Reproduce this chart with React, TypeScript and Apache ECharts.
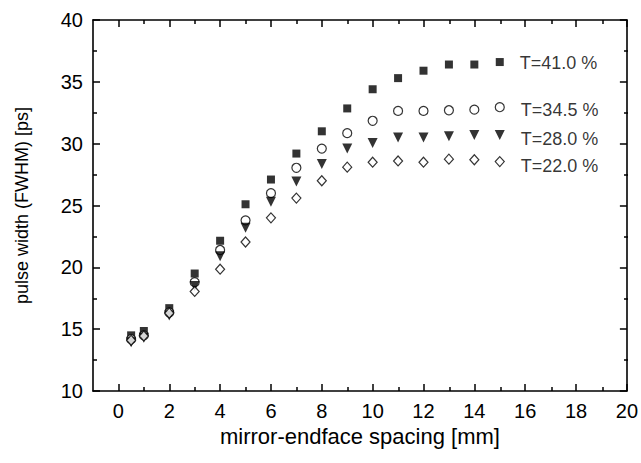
import React, { useEffect, useRef } from "react";
import * as echarts from "echarts";

const spacing = [0.5, 1, 2, 3, 4, 5, 6, 7, 8, 9, 10, 11, 12, 13, 14, 15];
const t41 = [14.5, 14.85, 16.7, 19.5, 22.15, 25.1, 27.1, 29.2, 31.0, 32.85, 34.4, 35.3, 35.9, 36.4, 36.4, 36.6];
const t345 = [14.2, 14.5, 16.35, 18.8, 21.4, 23.8, 26.0, 28.05, 29.6, 30.85, 31.85, 32.65, 32.65, 32.7, 32.75, 32.95];
const t28 = [13.95, 14.3, 16.1, 18.5, 20.9, 23.2, 25.3, 26.95, 28.35, 29.6, 30.05, 30.5, 30.5, 30.6, 30.7, 30.7];
const t22 = [14.1, 14.45, 16.3, 18.05, 19.85, 22.05, 24.0, 25.6, 27.0, 28.1, 28.5, 28.6, 28.5, 28.75, 28.7, 28.55];
const seriesNames = ["T=41.0 %", "T=34.5 %", "T=28.0 %", "T=22.0 %"];
const xMajorTicks = [0, 2, 4, 6, 8, 10, 12, 14, 16, 18, 20];
const xMinorTicks = [1, 3, 5, 7, 9, 11, 13, 15, 17, 19];
const yMajorTicks = [10, 15, 20, 25, 30, 35, 40];
const yMinorTicks = [12.5, 17.5, 22.5, 27.5, 32.5, 37.5];

const FONT = "'Liberation Sans', Arial, sans-serif";

export default function App() {
  const ref = useRef<HTMLDivElement>(null);
  useEffect(() => {
    if (!ref.current) return;
    const chart = echarts.init(ref.current, null, { renderer: "svg" });
    const tickStyle = { color: "#000", width: 1.5 };
    const lineOn = { show: true, onZero: false, lineStyle: { color: "#000", width: 1.6 } };
    const gridBox = { left: 93, right: 13, top: 20, bottom: 72 };
    const xa = (grid: number, position: string, ticks: number[], len: number, extra: any = {}) => ({
      type: "value",
      gridIndex: grid,
      position,
      min: -1,
      max: 20,
      splitLine: { show: false },
      axisLine: grid === 0 ? lineOn : { show: false, onZero: false },
      axisTick: { show: true, inside: true, length: len, customValues: ticks, lineStyle: tickStyle },
      axisLabel: { show: false },
      ...extra,
    });
    const ya = (grid: number, position: string, ticks: number[], len: number, extra: any = {}) => ({
      type: "value",
      gridIndex: grid,
      position,
      min: 10,
      max: 40,
      interval: 5,
      splitLine: { show: false },
      axisLine: grid === 0 ? lineOn : { show: false, onZero: false },
      axisTick: { show: true, inside: true, length: len, customValues: ticks, lineStyle: tickStyle },
      axisLabel: { show: false },
      ...extra,
    });
    const mk = (vals: number[], i: number, symbol: string, filled: boolean, size: any, rotate: number, dy: number) => ({
      type: "scatter",
      symbol,
      symbolSize: size,
      symbolRotate: rotate,
      itemStyle: filled
        ? { color: "#000" }
        : { color: "#fff", borderColor: "#000", borderWidth: 1.2 },
      label: {
        show: true,
        position: "right",
        distance: 16,
        offset: [0, dy],
        color: "#000",
        fontSize: 18,
        fontFamily: FONT,
        formatter: (p: any) => (p.dataIndex === vals.length - 1 ? seriesNames[i] : ""),
      },
      data: vals.map((v, k) => [spacing[k], v]),
    });
    chart.setOption({
      animation: false,
      grid: [gridBox, gridBox],
      xAxis: [
        xa(0, "bottom", xMajorTicks, 7, {
          name: "mirror-endface spacing [mm]",
          nameLocation: "middle",
          nameGap: 34,
          nameTextStyle: { fontSize: 22, color: "#000", fontFamily: FONT },
          axisLabel: { show: true, customValues: xMajorTicks, fontSize: 20, color: "#000", fontFamily: FONT, margin: 10 },
        }),
        xa(0, "top", xMajorTicks, 7),
        xa(1, "bottom", xMinorTicks, 4),
        xa(1, "top", xMinorTicks, 4),
      ],
      yAxis: [
        ya(0, "left", yMajorTicks, 7, {
          name: "pulse width (FWHM) [ps]",
          nameLocation: "middle",
          nameGap: 62,
          nameTextStyle: { fontSize: 18, color: "#000", fontFamily: FONT },
          axisLabel: { show: true, customValues: yMajorTicks, fontSize: 20, color: "#000", fontFamily: FONT, margin: 10 },
        }),
        ya(0, "right", yMajorTicks, 7),
        ya(1, "left", yMinorTicks, 4),
        ya(1, "right", yMinorTicks, 4),
      ],
      series: [
        mk(t41, 0, "rect", true, 8, 0, 1),
        mk(t345, 1, "circle", false, 9, 0, 3),
        mk(t28, 2, "triangle", true, 10, 180, 4),
        mk(t22, 3, "diamond", false, [9, 10], 0, 4),
      ],
    });
    return () => chart.dispose();
  }, []);
  return <div ref={ref} style={{ position: "absolute", left: 0, top: 0, width: 641, height: 463 }} />;
}
